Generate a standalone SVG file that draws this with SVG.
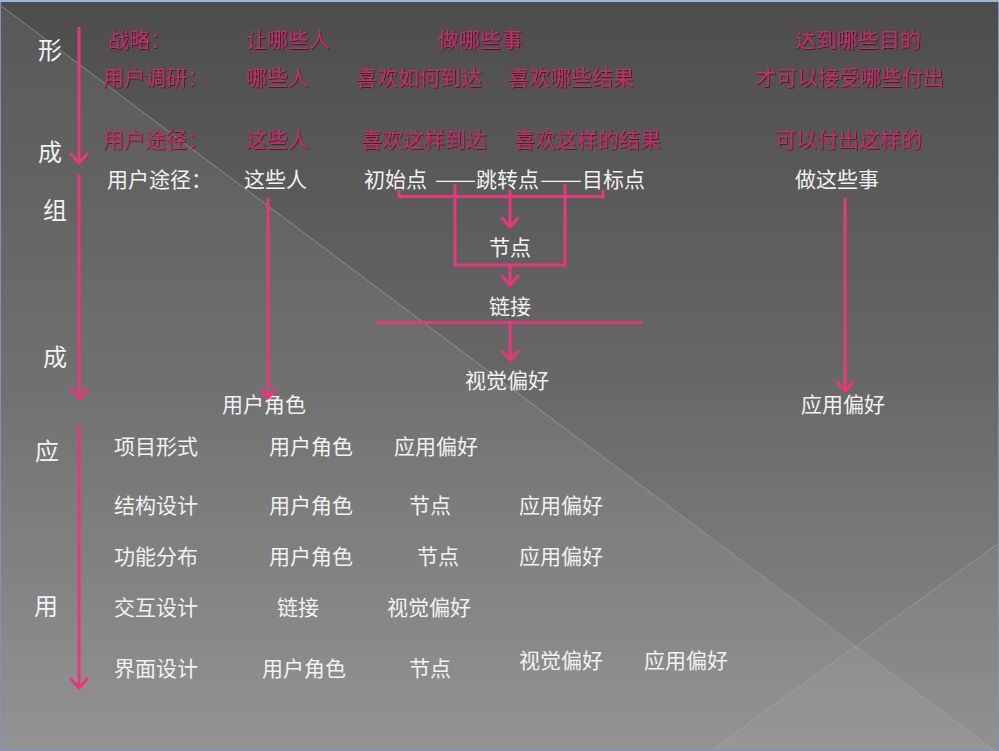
<svg xmlns="http://www.w3.org/2000/svg" width="999" height="751" viewBox="0 0 999 751">
<defs>
<linearGradient id="bg" x1="0" y1="0" x2="0" y2="1">
<stop offset="0" stop-color="#4d4d4d"/>
<stop offset="0.5" stop-color="#676767"/>
<stop offset="1" stop-color="#8d8d8d"/>
</linearGradient>
<marker id="ah" markerWidth="14" markerHeight="20" refX="12" refY="10" orient="auto" markerUnits="userSpaceOnUse" viewBox="0 0 14 20">
<path d="M3 2 L12 10 L3 18" fill="none" stroke="#e8377d" stroke-width="3" stroke-linecap="round" stroke-linejoin="round"/>
</marker>
<filter id="emb" x="-5%" y="-20%" width="110%" height="140%">
<feDropShadow dx="0.8" dy="0.8" stdDeviation="0.6" flood-color="#000" flood-opacity="0.6"/>
</filter>
</defs>
<style>
.t{font-family:"Noto Sans CJK SC","Noto Sans",sans-serif;font-size:21px;dominant-baseline:central}
.w{fill:#f2f2f2}
.p{fill:#c92a67;filter:url(#emb)}
.side{font-size:24px}
.ln{stroke:#e8377d;stroke-width:3;fill:none}
.ar{stroke:#e8377d;stroke-width:3;fill:none;marker-end:url(#ah)}
</style>
<rect x="0" y="0" width="999" height="751" fill="url(#bg)"/>
<polygon points="0,5 999,754 0,751" fill="#ffffff" opacity="0.06"/>
<polygon points="710,751 999,543 999,751" fill="#ffffff" opacity="0.04"/>
<line x1="0" y1="5" x2="999" y2="754" stroke="#a8a8a8" stroke-width="1" opacity="0.6"/>
<line x1="710" y1="751" x2="999" y2="543" stroke="#a8a8a8" stroke-width="1" opacity="0.6"/>
<rect x="0.5" y="0.5" width="998" height="750" fill="none" stroke="#7f93b8" stroke-width="1"/>
<line x1="0" y1="1" x2="999" y2="1" stroke="#9fb3d6" stroke-width="2"/>

<g id="side-labels">
<text class="t w side" x="38" y="48">形</text>
<text class="t w side" x="38" y="150">成</text>
<text class="t w side" x="43" y="208">组</text>
<text class="t w side" x="43" y="355">成</text>
<text class="t w side" x="35" y="449">应</text>
<text class="t w side" x="34" y="604">用</text>
</g>

<g id="pink-rows">
<text class="t p" x="108" y="38">战略：</text>
<text class="t p" x="246" y="38">让哪些人</text>
<text class="t p" x="438" y="38">做哪些事</text>
<text class="t p" x="795" y="38">达到哪些目的</text>
<text class="t p" x="103" y="76">用户调研：</text>
<text class="t p" x="246" y="76">哪些人</text>
<text class="t p" x="356" y="76">喜欢如何到达</text>
<text class="t p" x="508" y="76">喜欢哪些结果</text>
<text class="t p" x="755" y="76">才可以接受哪些付出</text>
<text class="t p" x="103" y="138">用户途径：</text>
<text class="t p" x="246" y="138">这些人</text>
<text class="t p" x="361" y="138">喜欢这样到达</text>
<text class="t p" x="514" y="138">喜欢这样的结果</text>
<text class="t p" x="775" y="138">可以付出这样的</text>
</g>

<g id="path-row">
<text class="t w" x="107" y="178">用户途径：</text>
<text class="t w" x="244" y="178">这些人</text>
<text class="t w" y="178"><tspan x="364">初始点</tspan><tspan x="435" textLength="41" lengthAdjust="spacingAndGlyphs">——</tspan><tspan x="476">跳转点</tspan><tspan x="540" textLength="42" lengthAdjust="spacingAndGlyphs">——</tspan><tspan x="582">目标点</tspan></text>
<text class="t w" x="795" y="178">做这些事</text>
</g>

<g id="flow-nodes">
<text class="t w" x="510" y="246" text-anchor="middle">节点</text>
<text class="t w" x="510" y="305" text-anchor="middle">链接</text>
<text class="t w" x="507" y="379" text-anchor="middle">视觉偏好</text>
<text class="t w" x="264" y="403" text-anchor="middle">用户角色</text>
<text class="t w" x="843" y="403" text-anchor="middle">应用偏好</text>
</g>

<g id="table">
<text class="t w" x="114" y="445">项目形式</text>
<text class="t w" x="269" y="445">用户角色</text>
<text class="t w" x="394" y="445">应用偏好</text>
<text class="t w" x="114" y="504">结构设计</text>
<text class="t w" x="269" y="504">用户角色</text>
<text class="t w" x="409" y="504">节点</text>
<text class="t w" x="519" y="504">应用偏好</text>
<text class="t w" x="114" y="555">功能分布</text>
<text class="t w" x="269" y="555">用户角色</text>
<text class="t w" x="417" y="555">节点</text>
<text class="t w" x="519" y="555">应用偏好</text>
<text class="t w" x="114" y="606">交互设计</text>
<text class="t w" x="277" y="606">链接</text>
<text class="t w" x="387" y="606">视觉偏好</text>
<text class="t w" x="114" y="667">界面设计</text>
<text class="t w" x="262" y="667">用户角色</text>
<text class="t w" x="409" y="667">节点</text>
<text class="t w" x="519" y="659">视觉偏好</text>
<text class="t w" x="644" y="659">应用偏好</text>
</g>

<g id="connectors">
<line class="ar" x1="79" y1="27" x2="79" y2="163"/>
<line class="ar" x1="79" y1="175" x2="79" y2="398"/>
<line class="ar" x1="79" y1="425" x2="79" y2="688"/>
<line class="ar" x1="268" y1="198" x2="268" y2="398"/>
<line class="ar" x1="845" y1="198" x2="845" y2="391"/>
<polyline class="ln" points="399,190 399,196.5 603,196.5 603,190"/>
<polyline class="ln" points="455,184 455,265 565,265 565,184"/>
<line class="ar" x1="510" y1="190" x2="510" y2="227"/>
<line class="ar" x1="510" y1="265" x2="510" y2="285"/>
<line class="ln" x1="376" y1="322.5" x2="642" y2="322.5"/>
<line class="ar" x1="510" y1="322" x2="510" y2="360"/>
</g>
</svg>
